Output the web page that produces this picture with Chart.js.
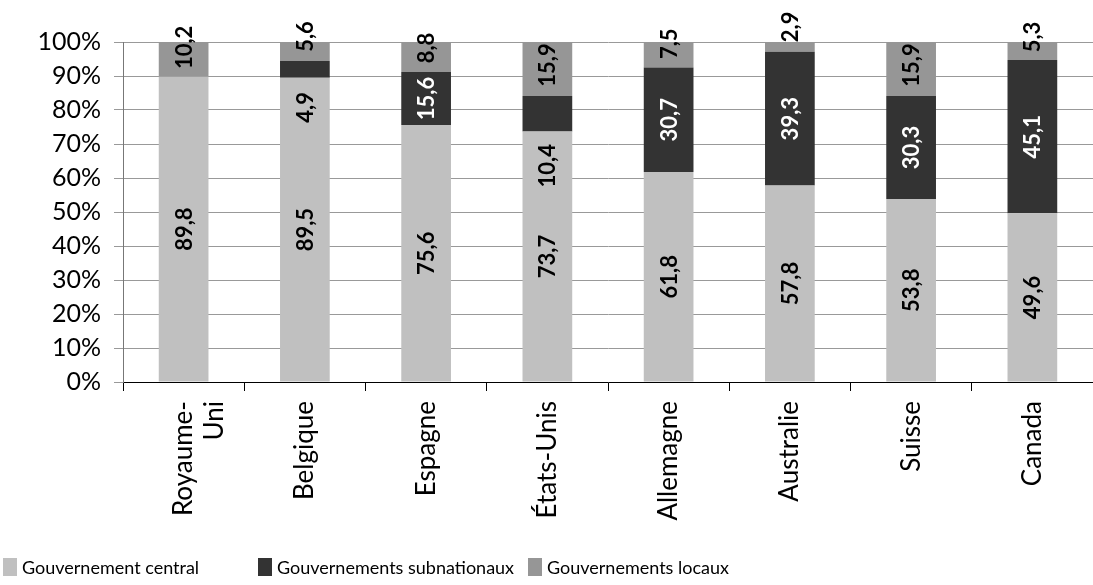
<!DOCTYPE html>
<html>
<head>
<meta charset="utf-8">
<script src="https://cdn.jsdelivr.net/npm/chart.js@4"></script>
<style>
  body { margin: 0; background: #fff; }
  #wrap { width: 1093px; height: 585px; }
</style>
</head>
<body>
<div id="wrap"><canvas id="myChart"></canvas></div>
<script>
const countries = [['Royaume-', 'Uni'], 'Belgique', 'Espagne', 'États-Unis', 'Allemagne', 'Australie', 'Suisse', 'Canada'];
const central = [89.8, 89.5, 75.6, 73.7, 61.8, 57.8, 53.8, 49.6];
const subnational = [0, 4.9, 15.6, 10.4, 30.7, 39.3, 30.3, 45.1];
const local = [10.2, 5.6, 8.8, 15.9, 7.5, 2.9, 15.9, 5.3];

// manual nudges of the value labels, like in the original sheet
const labelShift = {
    0: [0, 0, 0, 0, 0, 0, 0, 0],
    1: [0, 38, 0, 52, 0, 0, 0, 0],
    2: [-12, -15, -9, -4, -11, -20, -4, -14]
};

const FONT = 'Lato, "Open Sans", sans-serif';

const valueLabels = {
    id: 'valueLabels',
    afterDatasetsDraw(chart) {
        const c = chart.ctx;
        c.save();
        c.font = 'bold 22px ' + FONT;
        c.textAlign = 'center';
        c.textBaseline = 'middle';
        chart.data.datasets.forEach((ds, i) => {
            const meta = chart.getDatasetMeta(i);
            meta.data.forEach((bar, j) => {
                const v = ds.data[j];
                if (!v) return;
                const shift = labelShift[i][j];
                const y = (bar.y + bar.base) / 2 + shift;
                c.fillStyle = (i === 1 && shift === 0) ? '#ffffff' : '#000000';
                c.save();
                c.translate(bar.x, y);
                c.rotate(-Math.PI / 2);
                c.fillText(v.toFixed(1).replace('.', ','), 0, 1);
                c.restore();
            });
        });
        c.restore();
    }
};

// Excel style legend: columns along the bottom left
const columnLegend = {
    id: 'columnLegend',
    afterDraw(chart) {
        const c = chart.ctx;
        const starts = [3, 258, 528];
        const y = 567;
        c.save();
        c.font = '18px ' + FONT;
        c.textBaseline = 'middle';
        c.textAlign = 'left';
        chart.data.datasets.forEach((ds, i) => {
            const x = starts[i];
            c.fillStyle = ds.backgroundColor;
            c.fillRect(x, y - 9, 14, 18);
            c.fillStyle = '#000';
            c.fillText(ds.label, x + 19, y + 1);
        });
        c.restore();
    }
};

const ctx = document.getElementById('myChart').getContext('2d');

const myChart = new Chart(ctx, {
    type: 'bar',
    data: {
        labels: countries,
        datasets: [{
            label: 'Gouvernement central',
            data: central,
            backgroundColor: '#c0c0c0'
        }, {
            label: 'Gouvernements subnationaux',
            data: subnational,
            backgroundColor: '#333333'
        }, {
            label: 'Gouvernements locaux',
            data: local,
            backgroundColor: '#969696'
        }]
    },
    options: {
        responsive: true,
        maintainAspectRatio: false,
        animation: false,
        layout: {
            padding: { top: 42, right: 0, left: 0, bottom: 53 }
        },
        datasets: {
            bar: {
                barPercentage: 0.41,
                categoryPercentage: 1.0
            }
        },
        plugins: {
            legend: { display: false },
            tooltip: { enabled: false }
        },
        scales: {
            x: {
                stacked: true,
                afterFit: function(scale) {
                    scale.height = 150;
                },
                grid: {
                    display: true,
                    drawOnChartArea: false,
                    offset: true,
                    tickLength: 9,
                    color: '#000'
                },
                border: { color: '#000' },
                ticks: {
                    color: '#000',
                    minRotation: 90,
                    maxRotation: 90,
                    padding: 10,
                    font: { family: FONT, size: 26 }
                }
            },
            y: {
                stacked: true,
                min: 0,
                max: 100,
                afterFit: function(scale) {
                    scale.width = 123;
                },
                grid: {
                    color: '#999',
                    tickLength: 9
                },
                border: { color: '#777' },
                ticks: {
                    stepSize: 10,
                    color: '#000',
                    padding: 13,
                    font: { family: FONT, size: 25 },
                    callback: function(value) {
                        return value + '%';
                    }
                }
            }
        }
    },
    plugins: [valueLabels, columnLegend]
});
</script>
</body>
</html>
